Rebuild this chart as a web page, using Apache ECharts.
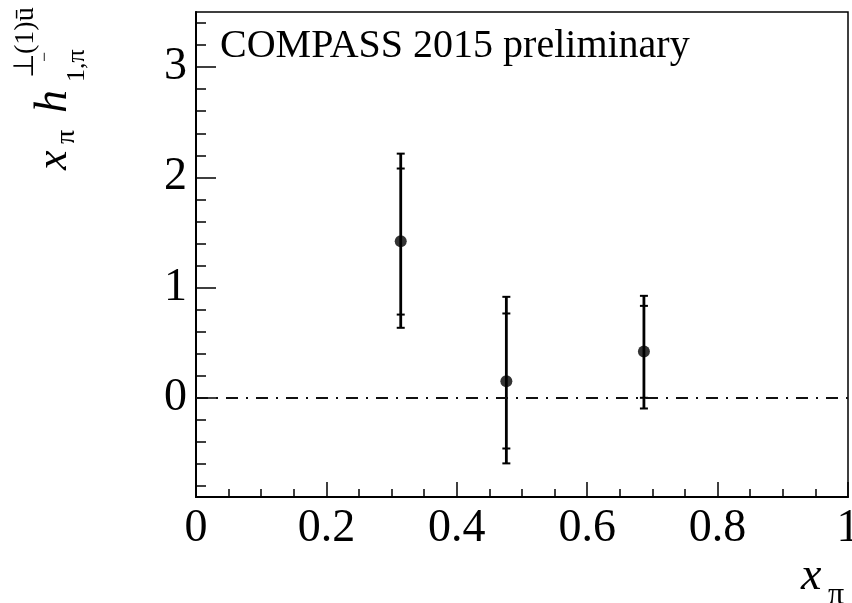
<!DOCTYPE html>
<html><head><meta charset="utf-8">
<script src="https://cdn.jsdelivr.net/npm/echarts@6/dist/echarts.min.js"></script>
<style>html,body{margin:0;padding:0;background:#fff}#c{width:852px;height:603px}</style>
</head><body><div id="c"></div>
<script>
// ---- data ----
const xVals  = [0.314, 0.476, 0.687];
const yVals  = [1.42, 0.15, 0.42];
const statLo = [0.755, -0.46, 0.0];
const statHi = [2.08, 0.765, 0.834];
const totLo  = [0.635, -0.595, -0.097];
const totHi  = [2.215, 0.916, 0.925];
const yMajorTicks = [0, 1, 2, 3];
const yMinorTicks = [-0.8,-0.6,-0.4,-0.2,0.2,0.4,0.6,0.8,1.2,1.4,1.6,1.8,2.2,2.4,2.6,2.8,3.2,3.4];
const xRange = [0, 1];
const yRange = [-0.9, 3.5];
const refLine = 0;

const FONT = '"Liberation Serif","Times New Roman",serif';
const points = xVals.map((x,i)=>[x, yVals[i], statLo[i], statHi[i], totLo[i], totHi[i]]);

const chart = echarts.init(document.getElementById('c'), null, {renderer:'canvas'});

function errRender(params, api){
  const x = api.value(0);
  const top = api.coord([x, api.value(5)]);
  const bot = api.coord([x, api.value(4)]);
  const sTop = api.coord([x, api.value(3)]);
  const sBot = api.coord([x, api.value(2)]);
  const hw = 4;
  const st = {stroke:'#000', lineWidth:2.8};
  const cap = (p)=>({type:'line', shape:{x1:p[0]-hw,y1:p[1],x2:p[0]+hw,y2:p[1]}, style:{stroke:'#000', lineWidth:2}});
  return {type:'group', children:[
    {type:'line', shape:{x1:top[0],y1:top[1],x2:bot[0],y2:bot[1]}, style:st},
    cap(top), cap(bot), cap(sTop), cap(sBot)
  ]};
}

// y-axis title pieces (local coords, group rotated 90deg)
const yTitle = {
  type:'group', x:67, y:170, rotation:Math.PI/2, silent:true,
  children:[
    {type:'text', x:0,   y:-13, style:{text:'x', font:'italic 44px '+FONT, fill:'#000', verticalAlign:'middle'}},
    {type:'text', x:26,  y:0,   style:{text:'π', font:'28px '+FONT, fill:'#000', verticalAlign:'middle'}},
    {type:'text', x:57,  y:-13, style:{text:'h', font:'italic 46px '+FONT, fill:'#000', verticalAlign:'middle'}},
    {type:'text', x:88,  y:10,  style:{text:'1,π', font:'26px '+FONT, fill:'#000', verticalAlign:'middle'}},
    {type:'text', x:108, y:-22, style:{text:'−', font:'18px '+FONT, fill:'#000', verticalAlign:'middle'}},
    {type:'text', x:92,  y:-41, style:{text:'⊥(1)ū', font:'28px '+FONT, fill:'#000', verticalAlign:'middle'}}
  ]
};

chart.setOption({
  animation:false,
  backgroundColor:'#fff',
  grid:{left:196, right:4, top:12, bottom:106, outerBoundsMode:'none', containLabel:false,
        show:true, borderColor:'#000', borderWidth:1.5, backgroundColor:'transparent'},
  xAxis:{
    type:'value', min:xRange[0], max:xRange[1], interval:0.2,
    axisLine:{show:true, onZero:false, lineStyle:{color:'#000', width:2}},
    axisTick:{show:true, inside:true, length:15, lineStyle:{color:'#000', width:1.5}},
    minorTick:{show:true, splitNumber:4, length:8, lineStyle:{color:'#000', width:1.5}},
    splitLine:{show:false},
    axisLabel:{color:'#000', fontFamily:FONT, fontSize:46, margin:9, hideOverlap:false,
      formatter:(v)=> (v===0||v===1)? String(v) : v.toFixed(1)}
  },
  yAxis:[{
    type:'value', min:yRange[0], max:yRange[1],
    axisLine:{show:true, onZero:false, lineStyle:{color:'#000', width:2}},
    axisTick:{show:true, inside:true, length:20, customValues:yMajorTicks, lineStyle:{color:'#000', width:1.5}},
    axisLabel:{color:'#000', fontFamily:FONT, fontSize:46, margin:9, customValues:yMajorTicks},
    splitLine:{show:false}
  },{
    type:'value', min:yRange[0], max:yRange[1], position:'left',
    axisLine:{show:false},
    axisTick:{show:true, inside:true, length:10, customValues:yMinorTicks, lineStyle:{color:'#000', width:1.5}},
    axisLabel:{show:false},
    splitLine:{show:false}
  }],
  graphic:[
    {type:'text', x:220, y:46, silent:true, style:{text:'COMPASS 2015 preliminary', font:'40px '+FONT, fill:'#000', verticalAlign:'middle'}},
    yTitle,
    {type:'text', x:801, y:577, silent:true, style:{text:'x', font:'italic 46px '+FONT, fill:'#000', verticalAlign:'middle'}},
    {type:'text', x:828, y:596, silent:true, style:{text:'π', font:'32px '+FONT, fill:'#000', verticalAlign:'middle'}}
  ],
  series:[
    {type:'line', data:[], yAxisIndex:0, silent:true,
      markLine:{symbol:'none', silent:true, label:{show:false},
        lineStyle:{color:'#111', width:2, type:[12,8,2,8]},
        data:[{yAxis:refLine}]}},
    {type:'custom', yAxisIndex:0, renderItem:errRender, encode:{x:0, y:1}, data:points, z:3},
    {type:'scatter', yAxisIndex:0, symbol:'circle', symbolSize:12, itemStyle:{color:'#000'}, data:points.map(p=>[p[0],p[1]]), z:4}
  ]
});
</script>
</body></html>
